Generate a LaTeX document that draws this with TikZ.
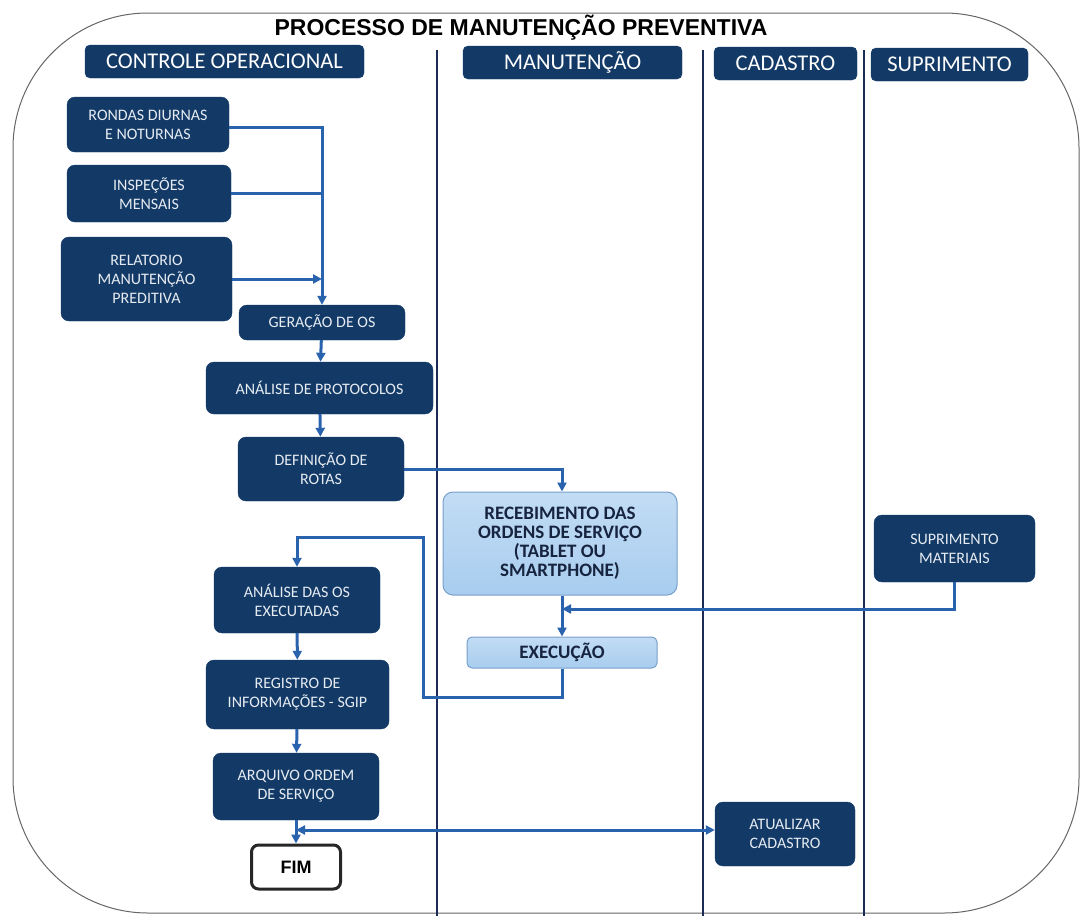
\documentclass[tikz,border=0pt]{standalone}
\usepackage{fontspec}
\setmainfont{Carlito}
\newfontfamily\titlefont{Liberation Sans}
\usetikzlibrary{arrows.meta}

\definecolor{navy}{HTML}{133A66}
\definecolor{boxtext}{HTML}{E6EBF2}
\definecolor{flow}{HTML}{2A63AD}
\definecolor{lane}{HTML}{1B2B55}
\definecolor{lightfill}{HTML}{A8CDEF}
\definecolor{lightedge}{HTML}{769FCB}
\definecolor{darktext}{HTML}{17243F}

\tikzset{
  darkbox/.style={draw=navy, fill=navy, rounded corners=8pt, text=boxtext,
    align=center, inner sep=0pt, font=\fontsize{16}{19}\selectfont},
  header/.style={draw=navy, fill=navy, rounded corners=5pt, text=white,
    align=center, inner sep=0pt, font=\fontsize{22.5}{24}\selectfont},
  lightbox/.style={draw=lightedge, line width=1pt, top color=lightfill!70!white,
    bottom color=lightfill, rounded corners=10pt, text=darktext, align=center,
    inner sep=0pt, font=\bfseries\fontsize{19}{19}\selectfont},
  endbox/.style={draw=black!85, line width=3pt, fill=white, rounded corners=7pt,
    align=center, inner sep=0pt, font=\titlefont\bfseries\fontsize{18}{20}\selectfont},
  flowline/.style={draw=flow, line width=3pt},
  flowarrow/.style={flowline, -{Triangle[length=9pt,width=9pt]}},
  lanediv/.style={draw=lane, line width=2pt}
}

\begin{document}
\begin{tikzpicture}[x=1pt,y=-1pt]
\useasboundingbox (0,0) rectangle (1082,916);

% outer frame
\draw[black!60, line width=1pt, rounded corners=135pt] (13,13) rectangle (1079,913);

% title
\node[font=\titlefont\bfseries\fontsize{23}{25}\selectfont] (title) at (521,28) {PROCESSO DE MANUTENÇÃO PREVENTIVA};

% lane dividers
\draw[lanediv] (437,50) -- (437,916);
\draw[lanediv] (703,50) -- (703,916);
\draw[lanediv] (864,50) -- (864,916);

% lane headers
\node[header, minimum width=279pt, minimum height=33pt] (hco) at (224.5,61.5) {CONTROLE OPERACIONAL};
\node[header, minimum width=219pt, minimum height=33pt] (hma) at (572.5,62.5) {MANUTENÇÃO};
\node[header, minimum width=143pt, minimum height=33pt] (hca) at (785.5,63.5) {CADASTRO};
\node[header, minimum width=157pt, minimum height=33pt] (hsu) at (949.5,64.5) {SUPRIMENTO};

% controle operacional
\node[darkbox, minimum width=162pt, minimum height=55pt] (ron) at (148,124.5) {RONDAS DIURNAS\\E NOTURNAS};
\node[darkbox, minimum width=164pt, minimum height=57pt] (ins) at (149,193.5) {INSPEÇÕES\\MENSAIS};
\node[darkbox, minimum width=171pt, minimum height=84pt] (rel) at (146.5,279) {RELATORIO\\MANUTENÇÃO\\PREDITIVA};
\node[darkbox, minimum width=166pt, minimum height=35pt] (ger) at (322,322.5) {GERAÇÃO DE OS};
\node[darkbox, minimum width=227pt, minimum height=52pt] (apr) at (319.5,388) {ANÁLISE DE PROTOCOLOS};
\node[darkbox, minimum width=166pt, minimum height=64pt] (def) at (321,469) {DEFINIÇÃO DE\\ROTAS};
\node[darkbox, minimum width=166pt, minimum height=66pt] (aos) at (297,600) {ANÁLISE DAS OS\\EXECUTADAS};
\node[darkbox, minimum width=183pt, minimum height=69pt] (reg) at (297.5,694.5) {REGISTRO DE\\INFORMAÇÕES - SGIP};
\node[darkbox, minimum width=166pt, minimum height=67pt] (arq) at (296,786.5) {ARQUIVO ORDEM\\DE SERVIÇO};
\node[endbox, minimum width=89pt, minimum height=44pt] (fim) at (296,867) {FIM};

% manutencao
\node[lightbox, minimum width=234pt, minimum height=103pt] (rec) at (560,543.5) {RECEBIMENTO DAS\\ORDENS DE SERVIÇO\\(TABLET OU\\SMARTPHONE)};
\node[lightbox, minimum width=190pt, minimum height=31pt, rounded corners=5pt] (exe) at (562,652.5) {EXECUÇÃO};

% suprimento / cadastro
\node[darkbox, minimum width=161pt, minimum height=67pt] (sup) at (954.5,548.5) {SUPRIMENTO\\MATERIAIS};
\node[darkbox, minimum width=140pt, minimum height=64pt] (atu) at (785,834) {ATUALIZAR\\CADASTRO};

% junction points
\coordinate (mj) at (562,609);
\coordinate (lb) at (423,697);
\coordinate (lt) at (423,537);
\coordinate (fj) at (296,830);

% connectors
\draw[flowarrow] (ron.east |- 0,127) -| (ger.north);
\draw[flowline] (ins.east) -- (ins.east -| ger.north);
\draw[flowarrow] (rel.east) -- (rel.east -| ger.north);
\draw[flowarrow] (ger) -- (apr);
\draw[flowarrow] (apr) -- (def);
\draw[flowarrow] (def.east) -| (rec.north -| mj);
\draw[flowarrow] (rec.south -| mj) -- (exe.north);
\draw[flowarrow] (sup.south) |- (mj);
\draw[flowarrow] (exe.south) |- (lb) -- (lt) -| (aos.north);
\draw[flowarrow] (aos) -- (reg);
\draw[flowarrow] (reg) -- (arq);
\draw[flowarrow] (arq) -- (fim);
\draw[flowline, {Triangle[length=9pt,width=9pt]}-{Triangle[length=9pt,width=9pt]}] (fj) -- (fj -| atu.west);

\end{tikzpicture}
\end{document}
